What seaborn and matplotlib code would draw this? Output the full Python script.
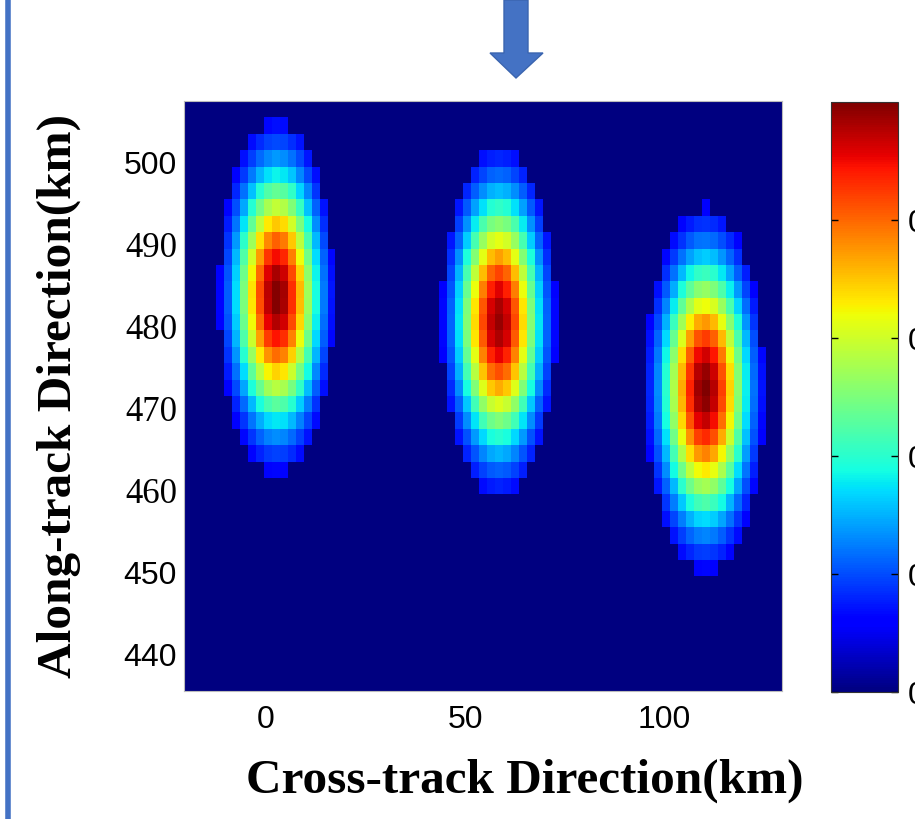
import numpy as np
import pandas as pd
import matplotlib
matplotlib.use('Agg')
import matplotlib.pyplot as plt
from matplotlib.patches import Polygon
from matplotlib.lines import Line2D
import seaborn as sns

# grid of the simulated footprint (cell centres, km, 2 km cells)
cross_track = np.arange(-19.5, 129.0, 2.0)
along_track = np.arange(506.5, 435.0, -2.0)

# three beam footprints
blob_x = [2.75, 58.5, 110.25]
blob_y = [483.6, 480.6, 472.3]
blob_sx = [7.0, 7.0, 7.2]
blob_sy = [10.5, 10.5, 10.8]
blob_peak = [1.0, 0.98, 1.0]
noise_floor = 0.12   # weaker returns are shown as zero

x_ticks = [0, 50, 100]
y_ticks = [500, 490, 480, 470, 460, 450, 440]
y_tick_serif = [False, True, True, True, True, False, False]
cbar_ticks = [0, 0.2, 0.4, 0.6, 0.8]
cbar_labels = ['0', '0.2', '0.4', '0.6', '0.8']

X, Y = np.meshgrid(cross_track, along_track)
Z = np.zeros_like(X)
for bx, by, sx, sy, pk in zip(blob_x, blob_y, blob_sx, blob_sy, blob_peak):
    r = ((X - bx) / sx) ** 2 + ((Y - by) / sy) ** 2
    Z = np.maximum(Z, pk * np.exp(-0.5 * r))
Z[Z < noise_floor] = 0
df = pd.DataFrame(Z, index=along_track, columns=cross_track)

W, H = 915, 819
fig = plt.figure(figsize=(W / 100, H / 100), dpi=100)
ax = fig.add_axes([184 / W, 1 - 691 / H, 598 / W, 590 / H])
cax = fig.add_axes([831 / W, 1 - 692 / H, 67 / W, 590 / H])

sns.heatmap(df, ax=ax, cbar_ax=cax, cmap='jet', vmin=0, vmax=1,
            xticklabels=False, yticklabels=False)

# map km values onto heatmap cell positions
ncol, nrow = len(cross_track), len(along_track)
xpos = np.interp(x_ticks, cross_track, np.arange(ncol) + 0.5)
ypos = np.interp(y_ticks, along_track[::-1], (np.arange(nrow) + 0.5)[::-1])
ax.set_xticks(xpos)
ax.set_xticklabels([str(t) for t in x_ticks], family='Liberation Sans')
ax.set_yticks(ypos)
ax.set_yticklabels([str(t) for t in y_ticks], rotation=0)
ax.tick_params(length=0, labelsize=23)
ax.tick_params(axis='y', pad=5)
ax.tick_params(axis='x', pad=10)
for lab, serif in zip(ax.get_yticklabels(), y_tick_serif):
    if serif:
        lab.set_family('Liberation Serif')
        lab.set_fontsize(25)
    else:
        lab.set_family('Liberation Sans')
for sp in ax.spines.values():
    sp.set_visible(True)
    sp.set_color('#bbbbbb')
    sp.set_linewidth(0.8)

lab_font = dict(family='Liberation Serif', weight='bold', size=35.5)
ax.set_xlabel('Cross-track Direction(km)', labelpad=17, **lab_font)
ax.xaxis.label.set_x(0.569)
ax.set_ylabel('Along-track Direction(km)', **lab_font)
ax.yaxis.set_label_coords(-0.172, 0.5)

cax.set_yticks(cbar_ticks)
cax.set_yticklabels(cbar_labels, family='Liberation Sans')
cax.tick_params(direction='in', left=True, right=True, length=5, width=1,
                labelsize=23, pad=7)
cb = ax.collections[0].colorbar
cb.outline.set_visible(True)
cb.outline.set_linewidth(0.8)
cb.outline.set_edgecolor('#333333')

# slide decorations: blue frame line and down arrow
fig.add_artist(Line2D([8 / W, 8 / W], [0, 1], color='#4472C4', lw=4))
arrow_px = [(504, 0), (528, 0), (528, 53), (543, 53), (516, 78), (490, 53), (504, 53)]
fig.add_artist(Polygon([(x / W, 1 - y / H) for x, y in arrow_px], closed=True,
                       transform=fig.transFigure, facecolor='#4472C4',
                       edgecolor='#3A64AF', lw=1))

fig.savefig('out.png', dpi=100)
